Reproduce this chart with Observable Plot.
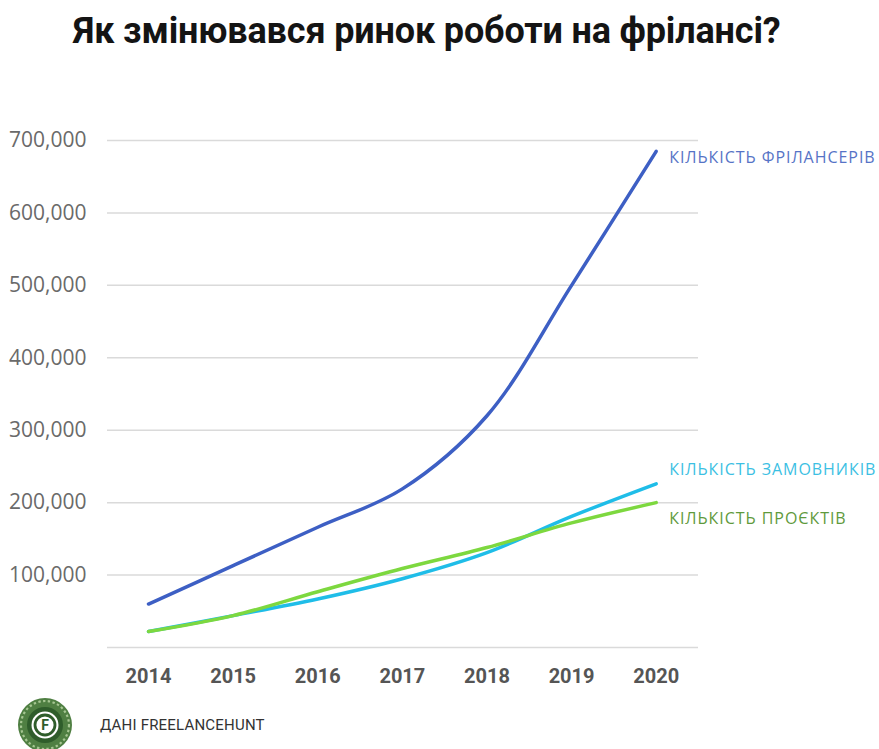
<!DOCTYPE html>
<html><head><meta charset="utf-8">
<script src="https://cdn.jsdelivr.net/npm/d3@7"></script>
<script src="https://cdn.jsdelivr.net/npm/@observablehq/plot@0.6"></script>
<style>
html,body{margin:0;padding:0;background:#fff}
body{width:879px;height:749px;overflow:hidden;font-family:Roboto,"Open Sans",sans-serif}
#title{height:65px;box-sizing:border-box;padding-left:73px;padding-top:9px;font-weight:700;font-size:36px;line-height:44px;color:#141414;white-space:nowrap;font-family:Roboto,sans-serif;letter-spacing:-0.15px}
#chart svg{display:block}
#chart .series-label text{letter-spacing:0.95px}
#footer{height:52px;display:flex;align-items:center;padding-left:17px;box-sizing:border-box;padding-top:4px}
#footer span{margin-left:27px;font-size:15px;color:#333;font-family:Roboto,sans-serif;letter-spacing:0.2px}
</style></head>
<body>
<div id="title">Як змінювався ринок роботи на фрілансі?</div>
<div id="chart"></div>
<div id="footer">
<svg width="56" height="56" viewBox="0 0 56 56">
<circle cx="28" cy="28" r="27" fill="#4f7f42"/>
<circle cx="28" cy="28" r="24" fill="none" stroke="#a6c692" stroke-width="2.2" stroke-dasharray="2.4 2.4"/>
<circle cx="28" cy="28" r="18" fill="#2f5d2b"/>
<circle cx="28" cy="28" r="13.5" fill="#ffffff"/>
<circle cx="28" cy="28" r="10" fill="none" stroke="#2f5d2b" stroke-width="2.8"/>
<text x="28" y="33" text-anchor="middle" font-family="Roboto" font-weight="700" font-size="14" fill="#2f5d2b">F</text>
</svg>
<span>ДАНІ FREELANCEHUNT</span>
</div>
<script>
const years = [2014, 2015, 2016, 2017, 2018, 2019, 2020];
const freelancers = [60000, 113000, 166000, 219000, 320000, 500000, 685000];
const customers = [22000, 44000, 67000, 95000, 131000, 181000, 226000];
const projects = [22000, 44000, 77000, 109000, 138000, 172000, 200000];
const seriesNames = ["КІЛЬКІСТЬ ФРІЛАНСЕРІВ", "КІЛЬКІСТЬ ЗАМОВНИКІВ", "КІЛЬКІСТЬ ПРОЄКТІВ"];
const lineColors = ["#3d5fc4", "#1fbde8", "#7dd83f"];
const labelColors = ["#5673c6", "#3cbfe3", "#5f9a3c"];
const yTicks = [100000, 200000, 300000, 400000, 500000, 600000, 700000];
const gridValues = [0, 100000, 200000, 300000, 400000, 500000, 600000, 700000];

const seriesValues = [freelancers, customers, projects];
const data = seriesValues.flatMap((vals, i) => vals.map((v, j) => ({year: years[j], value: v, series: seriesNames[i]})));
const last = seriesNames.map((s, i) => ({year: years[years.length - 1], value: seriesValues[i][years.length - 1], series: s}));
const labelDy = [7, -14, 16];

const chart = Plot.plot({
  width: 879,
  height: 632,
  marginLeft: 107,
  marginRight: 181,
  marginTop: 75,
  marginBottom: 50,
  style: {fontFamily: "Open Sans", background: "white", overflow: "visible"},
  x: {domain: [2013.515, 2020.5], label: null},
  y: {domain: [0, 700000], label: null},
  color: {domain: seriesNames, range: lineColors},
  marks: [
    Plot.ruleY(gridValues, {stroke: "#dadada", strokeWidth: 1.5}),
    Plot.axisY(yTicks, {tickSize: 0, tickPadding: 21, tickFormat: d3.format(","), fontSize: 21, color: "#6a6a6a", label: null}),
    Plot.axisX(years, {tickSize: 0, tickPadding: 21, tickFormat: d => String(d), fontSize: 20, fontWeight: "bold", fontFamily: "Roboto", color: "#555", label: null}),
    Plot.line(data, {x: "year", y: "value", z: "series", stroke: "series", curve: "catmull-rom", strokeWidth: 3.5, strokeLinecap: "round"}),
    ...seriesNames.map((s, i) => Plot.text([last[i]], {x: "year", y: "value", text: "series", fill: labelColors[i], dx: 13, dy: labelDy[i], textAnchor: "start", fontSize: 16, fontFamily: "Open Sans", className: "series-label"}))
  ]
});
document.getElementById("chart").appendChild(chart);
</script>
</body></html>
